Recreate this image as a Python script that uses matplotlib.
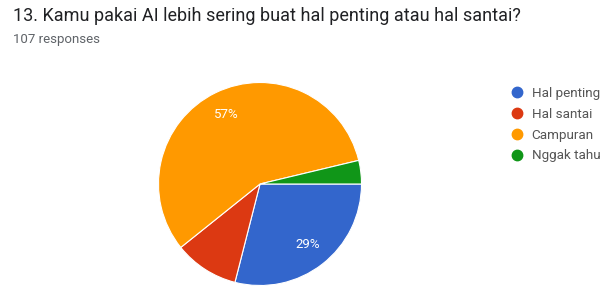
import matplotlib.pyplot as plt
from matplotlib.lines import Line2D

plt.rcParams['font.family'] = ['Roboto', 'DejaVu Sans']

# responses per answer (107 total)
labels = ["Hal penting", "Hal santai", "Campuran", "Nggak tahu"]
counts = [31, 11, 61, 4]
colors = ["#3366cc", "#dc3912", "#ff9900", "#109618"]

title = "13. Kamu pakai AI lebih sering buat hal penting atau hal santai?"
subtitle = "107 responses"

W, H = 601, 287
fig = plt.figure(figsize=(W / 100, H / 100), dpi=100)

fig.text(13 / W, 1 - 16 / H, title, fontsize=13, color="#202124", va="center", ha="left")
fig.text(13 / W, 1 - 40 / H, subtitle, fontsize=9.5, color="#5f6368", va="center", ha="left")

# pie centred at (260, 184) px, radius ~101 px
cx, cy, r = 260, 184, 101.5
ax = fig.add_axes([(cx - r) / W, (H - cy - r) / H, 2 * r / W, 2 * r / H])


def pct(p):
    # small slices get no label, like the forms chart
    return "%d%%" % round(p) if p > 15 else ""


wedges, texts, autotexts = ax.pie(counts, colors=colors, startangle=0, counterclock=False,
                                  autopct=pct, pctdistance=0.76,
                                  wedgeprops=dict(edgecolor="white", linewidth=0.8),
                                  textprops=dict(color="white", fontsize=9.5))
for w in wedges:
    w.set_clip_on(False)
ax.set_xlim(-1, 1)
ax.set_ylim(-1, 1)
ax.set_aspect("equal")

handles = [Line2D([0], [0], marker="o", linestyle="", markersize=7.5,
                  markerfacecolor=c, markeredgecolor=c) for c in colors]
fig.legend(handles, labels, loc="upper left", bbox_to_anchor=(510 / W, 1 - 87 / H),
           frameon=False, fontsize=9.7, handletextpad=0.6, labelspacing=0.58,
           handlelength=1.0, borderpad=0, borderaxespad=0, labelcolor="#555555")

fig.savefig("out.png", dpi=100)
